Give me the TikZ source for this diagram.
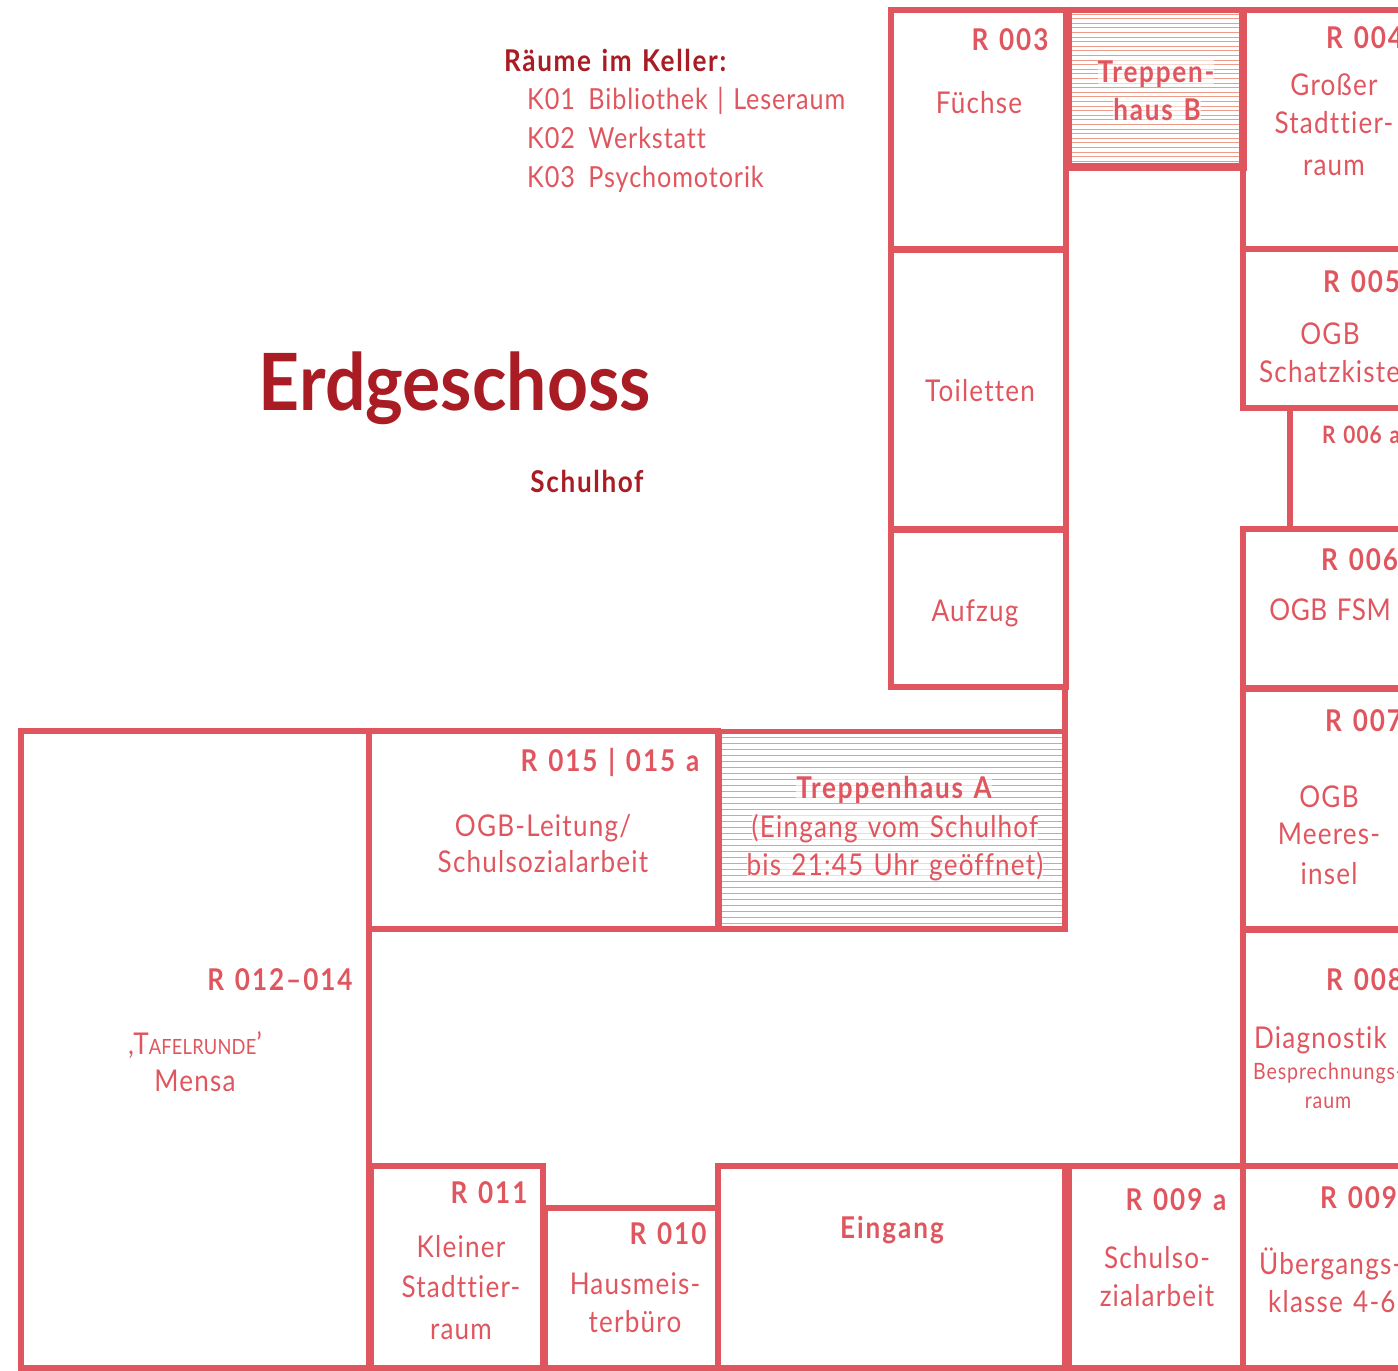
\documentclass[tikz,border=0pt]{standalone}
\usepackage{fontspec}
\setmainfont{Lato}[LetterSpace=4,FakeStretch=0.87,Ligatures=NoCommon,WordSpace=1.3]
\newfontfamily\titlefont{Lato}[FakeStretch=0.905]
\definecolor{wall}{HTML}{E0565F}
\definecolor{dark}{HTML}{A91C24}
\definecolor{hatch}{HTML}{EE9C8A}
\tikzset{
  x=1pt,y=-1pt,
  wallline/.style={draw=wall,line width=6pt,line join=miter},
  roomtxt/.style={text=wall,anchor=base,inner sep=0pt,font=\fontsize{30}{36}\selectfont},
  roomno/.style={roomtxt,font=\fontsize{30}{36}\selectfont\addfontfeature{LetterSpace=6.5}\bfseries},
  lefttxt/.style={anchor=base west},
  hatchtxt/.style={roomtxt,fill=white,fill opacity=.6,text opacity=1},
  hatchno/.style={hatchtxt,font=\fontsize{30}{36}\selectfont\addfontfeature{LetterSpace=6}\bfseries},
  darktxt/.style={text=dark,anchor=base west,inner sep=0pt,font=\fontsize{30}{36}\selectfont\addfontfeature{LetterSpace=5.5}\bfseries},
  kellertxt/.style={text=wall,anchor=base west,inner sep=0pt,font=\fontsize{29}{36}\selectfont\addfontfeature{LetterSpace=3}},
  smalltxt/.style={roomtxt,font=\fontsize{22.5}{28}\selectfont},
}
\begin{document}
\begin{tikzpicture}
\useasboundingbox (0,0) rectangle (1398,1371);
\clip (0,0) rectangle (1398,1371);
% hatching
\foreach \y in {14,18.6,...,164} \draw[hatch,line width=.8pt] (1068,\y) -- (1241,\y);
\foreach \y in {737,743,...,926} \draw[hatch,line width=.8pt] (720,\y) -- (1064,\y);
% walls
\draw[wallline] (891,10) rectangle (1066,249);
\draw[wallline] (891,249) rectangle (1066,529);
\draw[wallline] (891,529) rectangle (1066,687);
\draw[wallline,line width=7pt] (888,249) -- (1066,249);
\draw[wallline,line width=7pt] (888,529) -- (1066,529);
\draw[wallline,line width=8pt] (1068,10) -- (1068,167) -- (1243,167) -- (1243,10);
\draw[wallline] (1066,10) -- (1420,10);
\draw[wallline] (1065,687) -- (1065,731);
\draw[wallline] (1243,167) -- (1243,408) -- (1420,408);
\draw[wallline] (1243,249) -- (1420,249);
\draw[wallline] (1290,408) -- (1290,529);
\draw[wallline] (1243,526) -- (1243,1368);
\draw[wallline] (1243,529) -- (1420,529);
\draw[wallline,line width=7pt] (1243,688) -- (1420,688);
\draw[wallline,line width=7pt] (1243,929) -- (1420,929);
\draw[wallline] (1243,1166) -- (1420,1166);
\draw[wallline] (21,731) rectangle (369,1368);
\draw[wallline] (369,731) rectangle (718,929);
\draw[wallline,line width=5pt] (718,731) -- (1065,731);
\draw[wallline] (1065,731) -- (1065,929) -- (718,929);
\draw[wallline,line width=7pt] (718,731) -- (718,929);
\draw[wallline] (371,1166) rectangle (543,1368);
\draw[wallline] (545,1208) rectangle (718,1368);
\draw[wallline] (718,1166) rectangle (1065,1368);
\draw[wallline] (1069,1166) rectangle (1243,1368);
\draw[wallline] (21,1368) -- (1420,1368);
% Keller
\node[darktxt] (keller) at (504,71) {Räume im Keller:};
\node[kellertxt] (kA) at (527,109) {K01\hspace{4pt} Bibliothek | Leseraum};
\node[kellertxt] (kB) at (527,148) {K02\hspace{4pt} Werkstatt};
\node[kellertxt] (kC) at (527,187) {K03\hspace{4pt} Psychomotorik};
\node[text=dark,anchor=base,inner sep=0pt,font=\titlefont\fontsize{79}{90}\selectfont\bfseries] (title) at (455,410) {Erdgeschoss};
\node[darktxt,anchor=base] (hof) at (587,492) {Schulhof};
% rooms
\node[roomno] (r3) at (1010,50) {R 003};
\node[roomtxt] (r3a) at (979,113) {Füchse};
\node[hatchno] (tbA) at (1156,82) {Treppen-};
\node[hatchno] (tbB) at (1157,120) {haus B};
\node[roomno,lefttxt] (r4) at (1326,48) {R 004};
\node[roomtxt] (r4a) at (1334,95) {Großer};
\node[roomtxt] (r4b) at (1334,133) {Stadttier-};
\node[roomtxt] (r4c) at (1334,175) {raum};
\node[roomno,lefttxt] (r5) at (1323,292) {R 005};
\node[roomtxt] (r5a) at (1330,344) {OGB};
\node[roomtxt,lefttxt] (r5b) at (1259,382) {Schatzkiste};
\node[smalltxt,lefttxt,font=\fontsize{24}{28}\selectfont\bfseries] (r6a) at (1322,443) {R 006 a};
\node[roomtxt] (wc) at (980,401) {Toiletten};
\node[roomtxt] (lift) at (975,621) {Aufzug};
\node[roomno,lefttxt] (r6) at (1321,570) {R 006};
\node[roomtxt,font=\fontsize{30}{36}\selectfont\addfontfeature{LetterSpace=2}] (r6b) at (1330,620) {OGB FSM};
\node[roomno,lefttxt] (r7) at (1325,731) {R 007};
\node[roomtxt] (r7a) at (1329,807) {OGB};
\node[roomtxt] (r7b) at (1329,844) {Meeres-};
\node[roomtxt] (r7c) at (1329,884) {insel};
\node[roomno,lefttxt] (r8) at (1326,990) {R 008};
\node[roomtxt,lefttxt] (r8a) at (1254,1048) {Diagnostik |};
\node[smalltxt,lefttxt] (r8b) at (1253,1079) {Besprechnungs-};
\node[smalltxt] (r8c) at (1328,1108) {raum};
\node[roomno,lefttxt] (r9) at (1320,1208) {R 009};
\node[roomtxt,lefttxt] (r9b) at (1259,1274) {Übergangs-};
\node[roomtxt,lefttxt] (r9c) at (1268,1312) {klasse 4-6};
\node[roomno] (r9x) at (1176,1210) {R 009 a};
\node[roomtxt] (r9xa) at (1157,1268) {Schulso-};
\node[roomtxt] (r9xb) at (1157,1306) {zialarbeit};
\node[roomno] (ein) at (892,1238) {Eingang};
\node[roomno] (r11) at (489,1203) {R 011};
\node[roomtxt] (r11a) at (461,1257) {Kleiner};
\node[roomtxt] (r11b) at (461,1297) {Stadttier-};
\node[roomtxt] (r11c) at (461,1339) {raum};
\node[roomno] (r10) at (668,1244) {R 010};
\node[roomtxt] (r10a) at (635,1294) {Hausmeis-};
\node[roomtxt] (r10b) at (635,1332) {terbüro};
\node[roomno] (r12) at (280,990) {R 012–014};
\node[roomtxt] (r12a) at (195,1054) {,T{\fontsize{21}{28}\selectfont\addfontfeature{LetterSpace=1}AFELRUNDE}'};
\node[roomtxt] (r12b) at (195,1091) {Mensa};
\node[roomno] (r15) at (610,771) {R 015 | 015 a};
\node[roomtxt] (r15a) at (543,836) {OGB-Leitung/};
\node[roomtxt] (r15b) at (543,872) {Schulsozialarbeit};
\node[hatchno] (taA) at (894,798) {Treppenhaus A};
\node[hatchtxt] (taB) at (895,837) {(Eingang vom Schulhof};
\node[hatchtxt] (taC) at (895,875) {bis 21:45 Uhr geöffnet)};
\end{tikzpicture}
\end{document}
